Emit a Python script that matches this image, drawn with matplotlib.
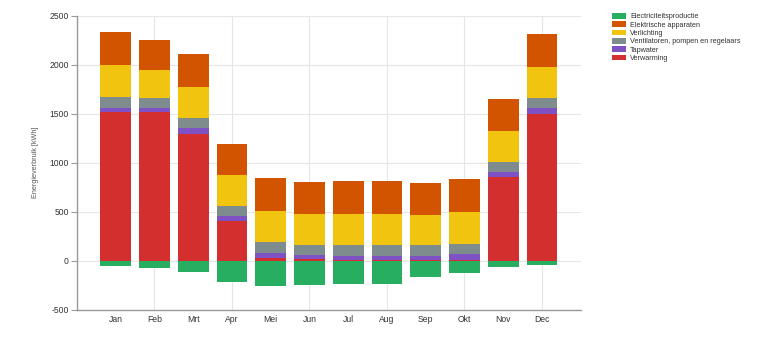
import matplotlib
matplotlib.use("Agg")
import matplotlib.pyplot as plt
from matplotlib.patches import Patch
import numpy as np

plt.rcParams["font.family"] = ["Liberation Sans", "DejaVu Sans"]
plt.rcParams["axes.unicode_minus"] = False

months = ["Jan", "Feb", "Mrt", "Apr", "Mei", "Jun", "Jul", "Aug", "Sep", "Okt", "Nov", "Dec"]

verwarming = [1513, 1513, 1292, 401, 31, 16, 3, 3, 3, 10, 857, 1496]
tapwater = [48, 48, 61, 54, 47, 45, 44, 44, 44, 54, 47, 58]
ventilatoren = [112, 95, 99, 102, 112, 102, 112, 109, 109, 109, 106, 102]
verlichting = [320, 293, 324, 313, 316, 313, 321, 324, 313, 322, 317, 324]
apparaten = [336, 302, 332, 324, 337, 326, 336, 336, 325, 336, 326, 336]
productie = [-55, -75, -116, -214, -259, -249, -235, -242, -167, -126, -61, -45]

colors = {
    "Electriciteitsproductie": "#27ae60",
    "Elektrische apparaten": "#d35400",
    "Verlichting": "#f1c40f",
    "Ventilatoren, pompen en regelaars": "#7f8c8d",
    "Tapwater": "#7e52c4",
    "Verwarming": "#d32f2f",
}

fig = plt.figure(figsize=(7.57, 3.38), dpi=100)
ax = fig.add_axes([77 / 757, 1 - 309.7 / 338, (580.7 - 77) / 757, (309.7 - 15.7) / 338])

x = np.arange(len(months))
w = 0.79
stack = [
    ("Verwarming", verwarming),
    ("Tapwater", tapwater),
    ("Ventilatoren, pompen en regelaars", ventilatoren),
    ("Verlichting", verlichting),
    ("Elektrische apparaten", apparaten),
]
bottom = np.zeros(len(months))
for name, vals in stack:
    vals = np.array(vals, dtype=float)
    ax.bar(x, vals, w, bottom=bottom, color=colors[name], zorder=3, linewidth=0)
    bottom += vals
ax.bar(x, productie, w, color=colors["Electriciteitsproductie"], zorder=3, linewidth=0)

ax.set_xlim(-1, 12)
ax.set_ylim(-500, 2500)
ax.set_yticks(np.arange(-500, 2501, 500))
ax.set_xticks(x)
ax.set_xticklabels(months)

for yv in np.arange(0, 2501, 500):
    ax.axhline(yv, color="#e6e6e6", lw=0.8, zorder=1)
for xv in x[1::2]:
    ax.axvline(xv, color="#e6e6e6", lw=0.8, zorder=1)

for s in ["top", "right"]:
    ax.spines[s].set_visible(False)
for s in ["left", "bottom"]:
    ax.spines[s].set_color("#999999")
    ax.spines[s].set_linewidth(1.0)

ax.tick_params(axis="y", length=4, width=0.8, color="#999999", labelsize=6.2, labelcolor="#333333", pad=2)
ax.tick_params(axis="x", length=0, labelsize=6.2, labelcolor="#333333", pad=4)

ax.set_ylabel("Energieverbruik [kWh]", fontsize=5.2, color="#555555", labelpad=7)

legend_order = [
    "Electriciteitsproductie",
    "Elektrische apparaten",
    "Verlichting",
    "Ventilatoren, pompen en regelaars",
    "Tapwater",
    "Verwarming",
]
handles = [Patch(facecolor=colors[n], edgecolor="none", label=n) for n in legend_order]
fig.legend(
    handles=handles,
    loc="upper left",
    bbox_to_anchor=(612 / 757, 1 - 13 / 338),
    frameon=False,
    fontsize=5.2,
    handlelength=2.0,
    handleheight=0.8,
    handletextpad=0.5,
    labelspacing=0.15,
    borderaxespad=0,
    borderpad=0,
    labelcolor="#333333",
)

fig.savefig("out.png", dpi=100)
